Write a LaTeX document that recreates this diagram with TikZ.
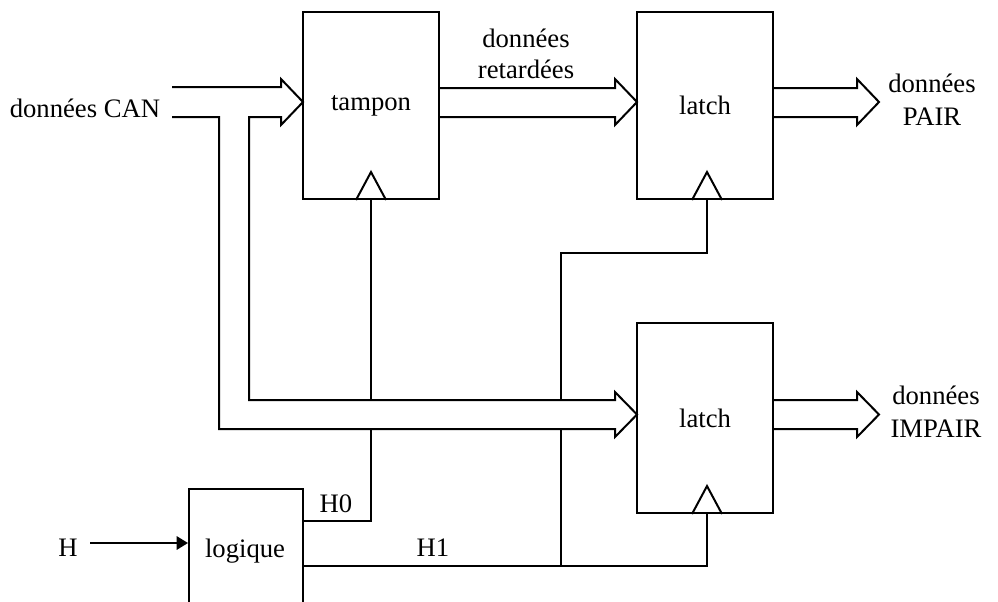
\documentclass[tikz,border=0pt]{standalone}
\usepackage{fontspec}
\setmainfont{Liberation Serif}
\usetikzlibrary{positioning,arrows.meta,calc}

\tikzset{
  blockbox/.style={draw, line width=1.5pt, minimum width=102pt, inner sep=0pt},
  wire/.style={line width=1.5pt, line join=miter},
  lbl/.style={font=\fontsize{20}{24.5}\selectfont, inner sep=0pt},
}

\begin{document}
\begin{tikzpicture}[x=0.75pt, y=-0.75pt, lbl]
\useasboundingbox (0,0) rectangle (998,601);

% blocks
\node[blockbox, minimum height=140.25pt] (tampon) at (371,105.5) {tampon};

\node[blockbox, minimum height=140.25pt] (latchP) at (705,105.5) {latch};

\node[blockbox, minimum height=142.5pt] (latchI) at (705,418) {latch};

\node[blockbox, minimum width=85.5pt, minimum height=113.25pt] (logique) at (246,564.5) {};
\node[anchor=base] (logtxt) at (245,557) {logique};

% clock inputs
\draw[wire] ($(tampon.south)+(-15,0)$) -- ++(15,-28) -- ++(15,28);
\draw[wire] ($(latchP.south)+(-13,0)$) -- ++(15,-28) -- ++(15,28);
\draw[wire] ($(latchI.south)+(-13,0)$) -- ++(15,-28) -- ++(15,28);

\coordinate (CKt) at (tampon.south);

\coordinate (CKp) at ($(latchP.south)+(2,0)$);

\coordinate (CKi) at ($(latchI.south)+(2,0)$);

\coordinate (J1) at (561,253);

\coordinate (H0a) at (logique.east |- 0,521);

\coordinate (H1a) at (logique.east |- 0,566);

% bus from the converter, split towards tampon and lower latch
\draw[wire] (172,87) -- (281,87) -- (281,79) -- (303,102) -- (281,125) -- (281,117)
  -- (249,117) -- (249,400) -- (615,400) -- (615,392) -- (637,414.5) -- (615,437)
  -- (615,429) -- (219,429) -- (219,117) -- (172,117);

% delayed data bus
\draw[wire] (439,88) -- (615,88) -- (615,79) -- (637,102) -- (615,125) -- (615,117) -- (439,117);

% output buses
\draw[wire] (773,88) -- (857,88) -- (857,79) -- (879,102) -- (857,125) -- (857,117) -- (773,117);

\draw[wire] (773,400) -- (857,400) -- (857,392) -- (879,414.5) -- (857,437) -- (857,429) -- (773,429);

% clocks
\draw[wire] (CKt) -- (CKt |- 0,400);
\draw[wire] (CKt |- 0,429) |- (H0a);
\draw[wire] (CKp) |- (J1) -- (J1 |- 0,400);
\draw[wire] (J1 |- 0,429) -- (J1 |- H1a);
\draw[wire] (H1a) -| (CKi);

\node[anchor=base] (Hin) at (68,556) {H};
\coordinate (Hs) at (90,543);
\draw[wire, -{Triangle[length=8.5pt, width=10pt]}] (Hs) -- (logique.west |- Hs);

% labels
\node[anchor=base] (can) at (85,117) {données CAN};
\node[anchor=base] (ret1) at (526,47) {données};
\node[anchor=base] (ret2) at (526,78) {retardées};
\node[anchor=base] (pair1) at (932,92) {données};
\node[anchor=base] (pair2) at (932,125) {PAIR};
\node[anchor=base] (imp1) at (936,404.5) {données};
\node[anchor=base] (imp2) at (936,437.5) {IMPAIR};
\node[anchor=base] (h0) at (336,512) {H0};
\node[anchor=base] (h1) at (433,556) {H1};
\end{tikzpicture}
\end{document}
